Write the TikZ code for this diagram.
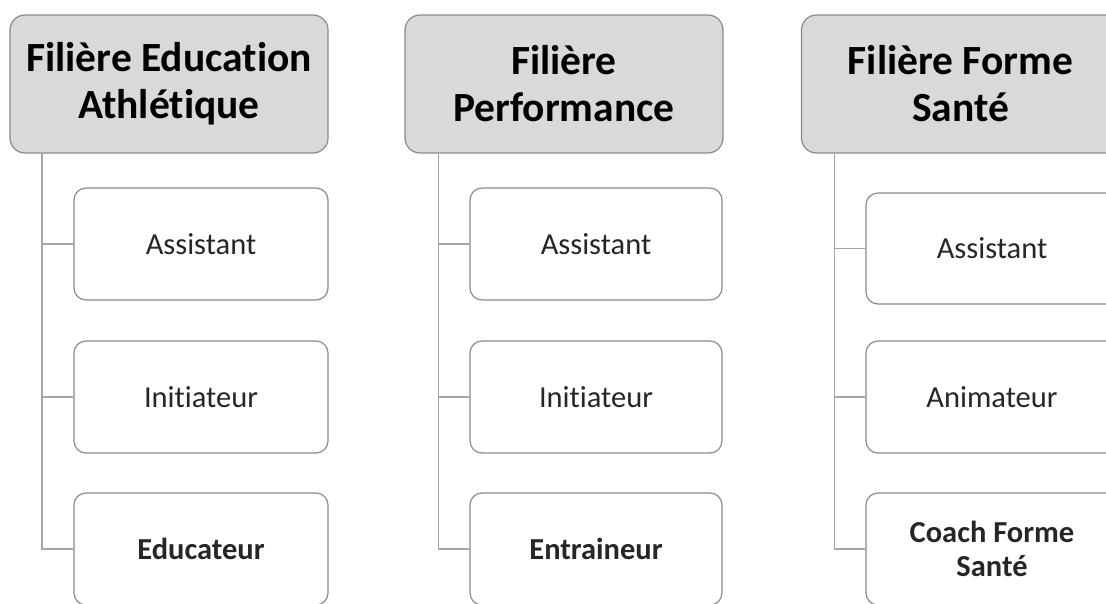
\documentclass[tikz,border=0pt]{standalone}
\usepackage{fontspec}
\setmainfont{Carlito}[Ligatures={NoCommon}]
\definecolor{bordergray}{HTML}{8A8A8A}
\definecolor{conngray}{HTML}{A6A6A6}
\definecolor{headfill}{HTML}{D9D9D9}
\definecolor{textdark}{HTML}{262626}
\begin{document}
\begin{tikzpicture}[x=1pt,y=-1pt,
  head/.style={draw=bordergray, fill=headfill, line width=1.2pt, rounded corners=15pt,
    minimum width=318pt, minimum height=138pt, inner sep=0pt, align=center,
    font=\fontsize{41.5}{47}\selectfont\bfseries, text=black},
  child/.style={draw=bordergray, fill=white, line width=1.2pt, rounded corners=12pt,
    minimum width=254pt, minimum height=112pt, inner sep=0pt, align=center,
    font=\fontsize{30.5}{34}\selectfont, text=textdark},
  boldtxt/.style={font=\fontsize{30.5}{34}\selectfont\bfseries},
  conn/.style={draw=conngray, line width=1.3pt}]
\useasboundingbox (0,0) rectangle (1106,603);
\clip (0,0) rectangle (1106,603);

% headers
\node[head] (h1) at (169,84) {Filière Education\\Athlétique};
\node[head] (h2) at (564,84) {Filière\\Performance};
\node[head] (h3) at (960.5,84) {Filière Forme\\Santé};

% spine coordinates
\coordinate (v1) at (42,0);
\coordinate (v2) at (438.5,0);
\coordinate (v3) at (834.3,0);

% column 1
\node[child] (c11) at (201,244) {Assistant};
\node[child] (c12) at (201,397) {Initiateur};
\node[child, boldtxt] (c13) at (201,549) {Educateur};
% column 2
\node[child, minimum width=252pt] (c21) at (596,244) {Assistant};
\node[child, minimum width=252pt] (c22) at (596,397) {Initiateur};
\node[child, minimum width=252pt, boldtxt] (c23) at (596,549) {Entraineur};
% column 3
\node[child, minimum width=252pt, minimum height=111pt] (c31) at (992,248.5) {Assistant};
\node[child, minimum width=252pt] (c32) at (992,397) {Animateur};
\node[child, minimum width=252pt, boldtxt] (c33) at (992,549) {Coach Forme\\Santé};

% connectors
\foreach \c in {1,2,3}{
  \draw[conn] (h\c.south -| v\c) |- (c\c3.west);
  \draw[conn] (v\c |- c\c1.west) -- (c\c1.west);
  \draw[conn] (v\c |- c\c2.west) -- (c\c2.west);
}
\end{tikzpicture}
\end{document}
